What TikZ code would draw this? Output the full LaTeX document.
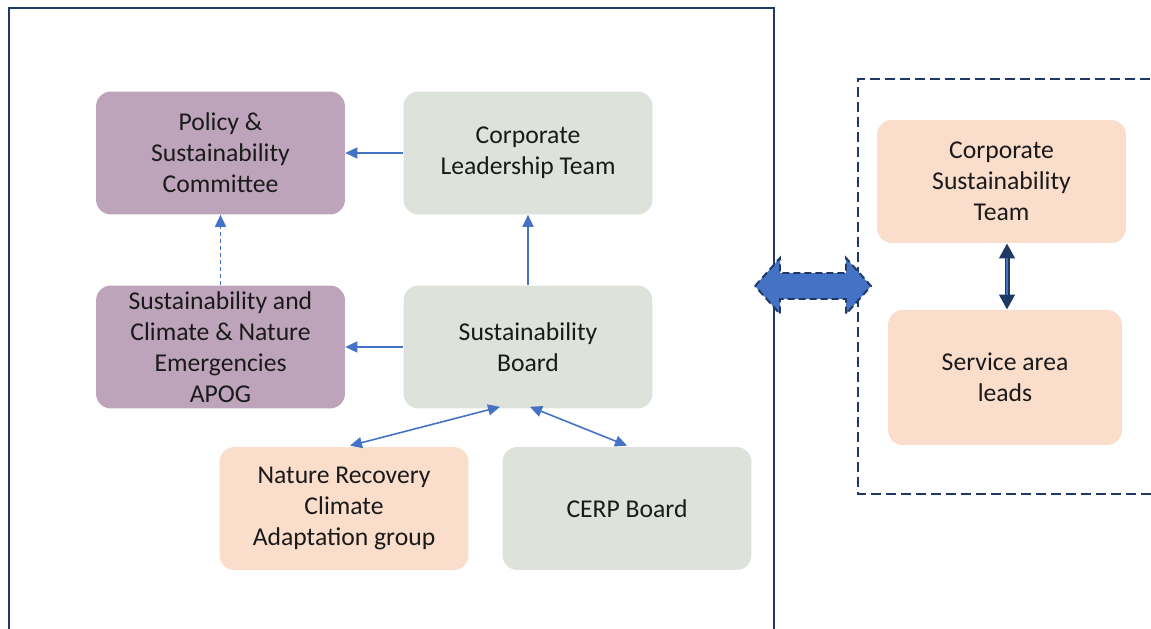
\documentclass[tikz,border=0pt]{standalone}
\usepackage{fontspec}
\setmainfont{Carlito}
\usepackage{xcolor}
\usepackage{tikz}
\usetikzlibrary{arrows.meta,positioning,calc}
\definecolor{Ink}{HTML}{1A1A1A}
\definecolor{Navy}{HTML}{1F3864}
\definecolor{Link}{HTML}{4472C4}
\definecolor{Mauve}{HTML}{BEA4BB}
\definecolor{Sage}{HTML}{DDE3DA}
\definecolor{Peach}{HTML}{FADDCB}

\begin{document}
\begin{tikzpicture}[
  x=0.02cm,y=-0.02cm,
  group/.style={rounded corners=0.3cm,minimum width=4.98cm,minimum height=2.46cm,inner sep=2pt,align=center,text=Ink,font=\fontsize{14.6pt}{17.6pt}\selectfont},
  committee/.style={group,fill=Mauve},
  board/.style={group,fill=Sage},
  team/.style={group,fill=Peach},
  edge/.style={-{Triangle[length=0.24cm,width=0.22cm]},draw=Link,line width=0.9pt},
  twoway/.style={{Triangle[length=0.24cm,width=0.22cm]}-{Triangle[length=0.24cm,width=0.22cm]},draw=Link,line width=0.9pt},
  frame/.style={draw=Navy,line width=1.4pt},
  outside/.style={draw=Navy,line width=1.1pt,dash pattern=on 0.2cm off 0.1cm},
  blockarrow/.style={fill=Link,draw=Navy,line width=1.1pt,dash pattern=on 0.14cm off 0.08cm,line join=miter}
]
  \useasboundingbox (0,0) rectangle (1151,628);
  \clip (0,0) rectangle (1151,628);

  % frames
  \draw[frame] (9,660) -- (9,8) -- (774,8) -- (774,660);
  \draw[outside] (1180,79) -- (858,79) -- (858,494) -- (1180,494);

  % council side
  \node[committee] (policy) at (220.5,153) {Policy \&\\ Sustainability\\ Committee};
  \node[board] (clt) at (528,153) {Corporate\\ Leadership Team};
  \node[committee] (apog) at (220.5,347) {Sustainability and\\ Climate \& Nature\\ Emergencies\\ APOG};
  \node[board] (sboard) at (528,347) {Sustainability\\ Board};
  \node[team] (nature) at (344,508.5) {Nature Recovery\\ Climate\\ Adaptation group};
  \node[board] (cerp) at (627,508.5) {CERP Board};

  % officer side
  \node[team] (cst) at (1001.5,181.5) {Corporate\\ Sustainability\\ Team};
  \node[team,minimum width=4.68cm,minimum height=2.7cm] (leads) at (1005,377.5) {Service area\\ leads};

  \draw[edge] (clt.west) -- (policy.east);
  \draw[edge] (sboard.west) -- (apog.east);
  \draw[edge] (sboard.north) -- (clt.south);
  \draw[edge,dash pattern=on 0.08cm off 0.06cm] (apog.north) -- (policy.south);
  \draw[twoway] ($(nature.north)+(6,-1)$) -- ($(sboard.south)+(-28,-2)$);
  \draw[twoway] ($(sboard.south)+(2,-2)$) -- ($(cerp.north)+(0,-1)$);

  \coordinate (mid) at (1007,0);
  \draw[Navy,line width=0.1cm,{Triangle[length=0.3cm,width=0.3cm]}-{Triangle[length=0.3cm,width=0.3cm]}] (cst.south -| mid) -- (leads.north -| mid);
  \draw[Link,line width=0.04cm,shorten >=0.3cm,shorten <=0.3cm] (cst.south -| mid) -- (leads.north -| mid);

  % link between the two groups
  \coordinate (link) at (813,286);
  \draw[blockarrow] ($(link)+(-58,0)$) -- ++(25,-28) -- ++(0,15) -- ++(66,0) -- ++(0,-15)
    -- ++(25,28) -- ++(-25,28) -- ++(0,-15) -- ++(-66,0) -- ++(0,15) -- cycle;
\end{tikzpicture}
\end{document}
